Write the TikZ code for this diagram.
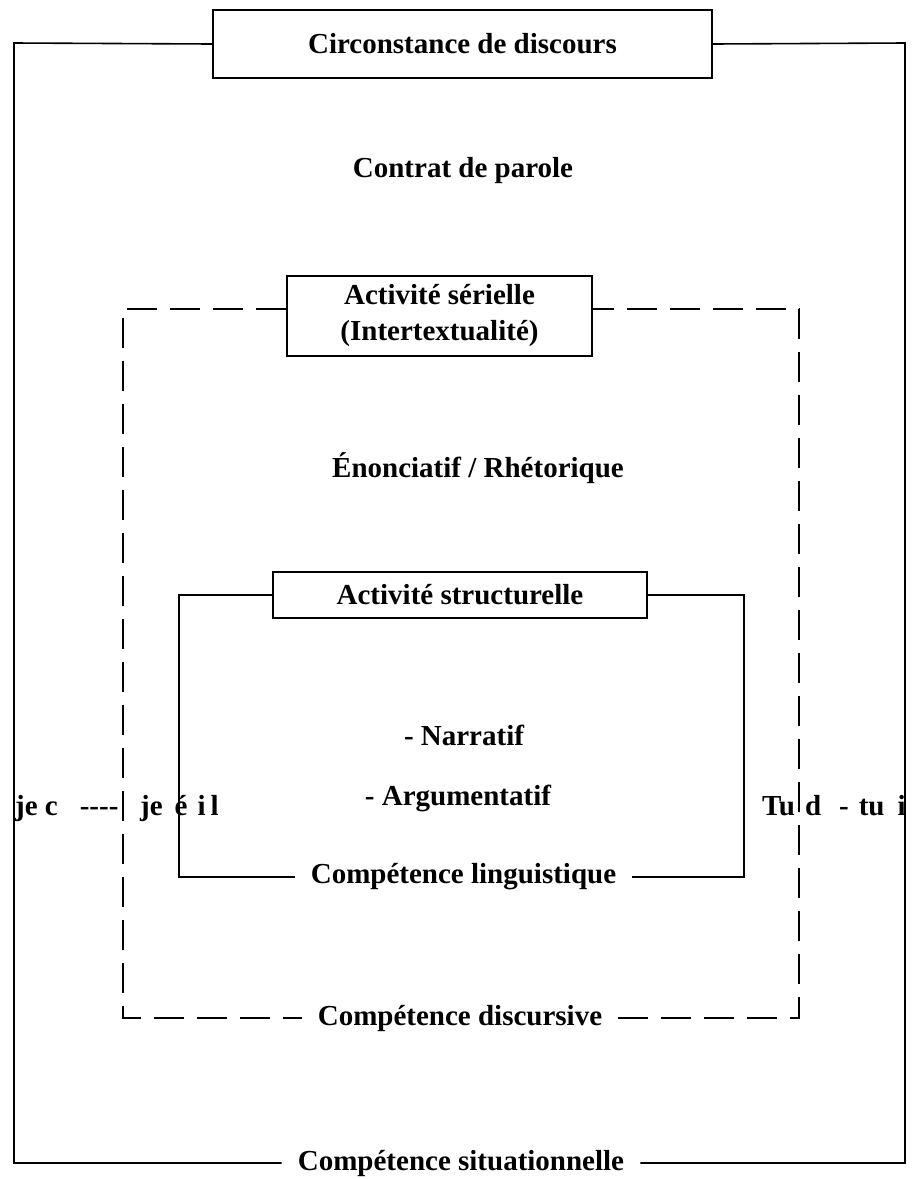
\documentclass[tikz,border=0pt]{standalone}
\usepackage{fontspec}
\setmainfont{Liberation Serif}
\begin{document}
\begin{tikzpicture}[x=1pt,y=-1pt,
  frame/.style={line width=1.6pt},
  dashframe/.style={line width=2.2pt, dash pattern=on 30pt off 13pt},
  txt/.style={font=\fontsize{29}{36}\selectfont\bfseries},
  titlebox/.style={txt, draw, line width=1.6pt, fill=white, align=center, inner sep=0pt},
  gaplabel/.style={txt, inner ysep=0pt, inner xsep=16pt},
  freelabel/.style={txt, inner sep=0pt},
]
\useasboundingbox (0,0) rectangle (914,1179);

% corners of the three frames
\coordinate (o-tl) at (14,43);
\coordinate (o-bl) at (14,1163);
\coordinate (o-br) at (905,1163);
\coordinate (o-tr) at (905,43);
\coordinate (d-tl) at (123,309);
\coordinate (d-bl) at (123,1018);
\coordinate (d-br) at (799,1018);
\coordinate (d-tr) at (799,309);
\coordinate (i-tl) at (179,595);
\coordinate (i-bl) at (179,877);
\coordinate (i-br) at (744,877);
\coordinate (i-tr) at (744,595);

% outer frame: situational competence
\node[titlebox, minimum width=499pt, minimum height=68pt] (circ) at (462.5,44) {Circonstance de discours};
\node[gaplabel] (sit) at (461,1163) {Compétence situationnelle};
\draw[frame] (circ.west) -- (o-tl) -- (o-bl) -- (sit.west);
\draw[frame] (sit.east) -- (o-br) -- (o-tr) -- (circ.east);
\node[freelabel] (contrat) at (463,171) {Contrat de parole};

% dashed frame: discursive competence
\node[titlebox, minimum width=305pt, minimum height=80pt] (serie) at (439.5,316)
  {Activité sérielle\\(Intertextualité)};
\node[gaplabel] (disc) at (460,1018) {Compétence discursive};
\draw[dashframe] (serie.west |- d-tl) -- (d-tl) -- (d-bl) -- (disc.west);
\draw[dashframe] (disc.east) -- (d-br) -- (d-tr) -- (serie.east |- d-tr);
\node[freelabel] (enonc) at (478,468) {Énonciatif / Rhétorique};

% inner frame: linguistic competence
\node[titlebox, minimum width=374pt, minimum height=46pt] (struct) at (460,595) {Activité structurelle};
\node[gaplabel] (ling) at (463.5,877) {Compétence linguistique};
\draw[frame] (struct.west) -- (i-tl) -- (i-bl) -- (ling.west);
\draw[frame] (ling.east) -- (i-br) -- (i-tr) -- (struct.east);
\node[freelabel] (narr) at (464,735) {- Narratif};
\node[freelabel] (argu) at (458,798) {- Argumentatif};

% side labels
\node[freelabel, anchor=base west] (jec) at (15,815)
  {je c\hspace{22pt}{-}{-}{-}{-}};
\node[freelabel, anchor=base west] (jeeil) at (140,815)
  {je\hspace{12pt}é\hspace{10pt}i\hspace{5pt}l};
\node[freelabel, anchor=base west] (tud) at (762,815)
  {Tu\hspace{10pt}d\hspace{18pt}-\hspace{10pt}tu\hspace{13pt}i};
\end{tikzpicture}
\end{document}
